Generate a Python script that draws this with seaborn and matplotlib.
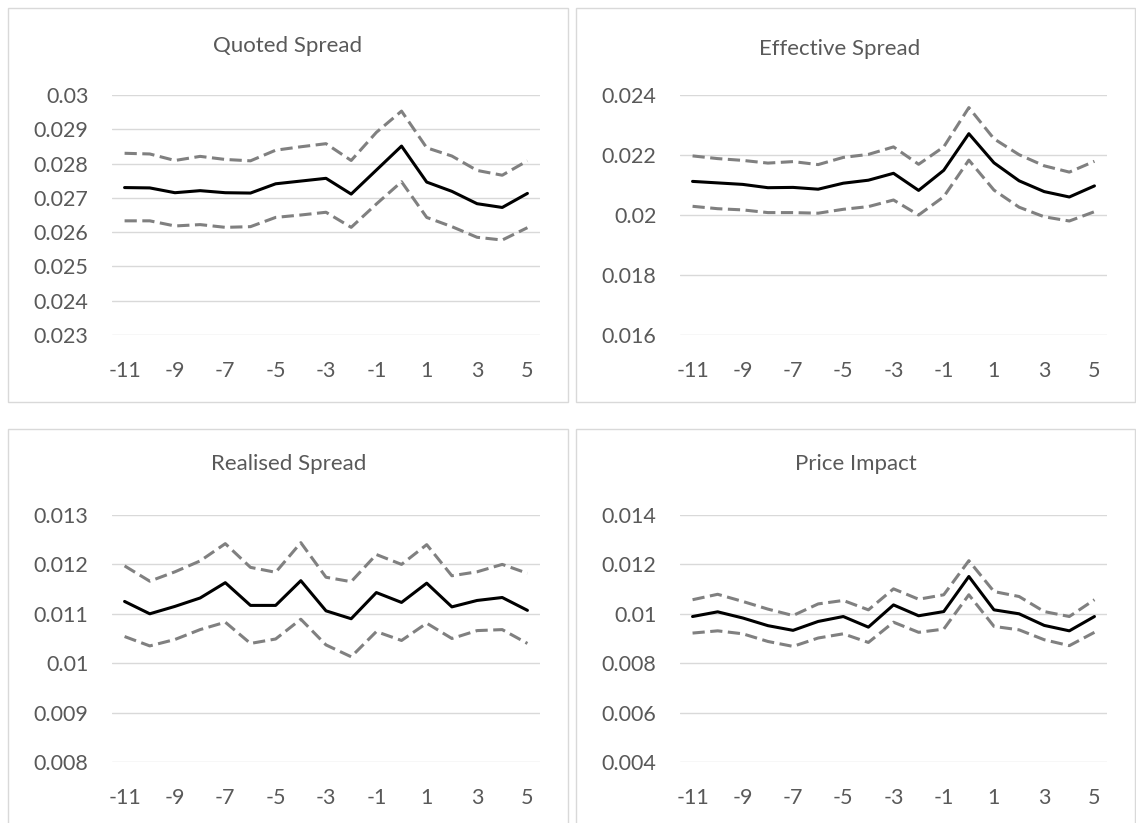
import matplotlib
matplotlib.use("Agg")
import matplotlib.pyplot as plt
import seaborn as sns
import pandas as pd
from matplotlib.patches import Rectangle
from matplotlib.ticker import FuncFormatter, FixedLocator

sns.set_theme(style="white")
plt.rcParams['font.family'] = ['Lato', 'DejaVu Sans']

event_days = list(range(-11, 6))
x_tick_labels = [-11, -9, -7, -5, -3, -1, 1, 3, 5]

quoted_mean = [0.02730, 0.02729, 0.02715, 0.02721, 0.02715, 0.02714, 0.02741, 0.02749, 0.02757,
               0.02711, 0.02781, 0.02851, 0.02746, 0.02719, 0.02683, 0.02672, 0.02713]
quoted_upper = [0.02830, 0.02828, 0.02809, 0.02821, 0.02812, 0.02808, 0.02839, 0.02849, 0.02858,
                0.02809, 0.02891, 0.02953, 0.02846, 0.02822, 0.02780, 0.02766, 0.02808]
quoted_lower = [0.02633, 0.02633, 0.02618, 0.02622, 0.02614, 0.02616, 0.02643, 0.02650, 0.02658,
                0.02614, 0.02682, 0.02747, 0.02643, 0.02616, 0.02585, 0.02577, 0.02613]

effective_mean = [0.02112, 0.02107, 0.02102, 0.02091, 0.02092, 0.02086, 0.02106, 0.02116, 0.02139,
                  0.02082, 0.02149, 0.02271, 0.02174, 0.02114, 0.02078, 0.02060, 0.02097]
effective_upper = [0.02197, 0.02188, 0.02182, 0.02173, 0.02178, 0.02168, 0.02192, 0.02202, 0.02227,
                   0.02169, 0.02227, 0.02358, 0.02254, 0.02201, 0.02164, 0.02143, 0.02179]
effective_lower = [0.02029, 0.02021, 0.02017, 0.02008, 0.02008, 0.02006, 0.02019, 0.02028, 0.02050,
                   0.02000, 0.02061, 0.02183, 0.02083, 0.02026, 0.01994, 0.01980, 0.02011]

realised_mean = [0.01125, 0.01100, 0.01115, 0.01132, 0.01163, 0.01117, 0.01117, 0.01167, 0.01106,
                 0.01090, 0.01143, 0.01123, 0.01162, 0.01114, 0.01127, 0.01133, 0.01107]
realised_upper = [0.01197, 0.01166, 0.01185, 0.01207, 0.01242, 0.01194, 0.01184, 0.01244, 0.01174,
                  0.01165, 0.01220, 0.01200, 0.01240, 0.01177, 0.01185, 0.01200, 0.01182]
realised_lower = [0.01054, 0.01035, 0.01048, 0.01068, 0.01083, 0.01040, 0.01049, 0.01089, 0.01037,
                  0.01013, 0.01064, 0.01046, 0.01081, 0.01050, 0.01066, 0.01068, 0.01040]

impact_mean = [0.00989, 0.01008, 0.00983, 0.00952, 0.00933, 0.00969, 0.00989, 0.00946, 0.01036,
               0.00992, 0.01009, 0.01151, 0.01016, 0.01000, 0.00953, 0.00931, 0.00989]
impact_upper = [0.01057, 0.01079, 0.01050, 0.01019, 0.00993, 0.01040, 0.01054, 0.01016, 0.01101,
                0.01059, 0.01077, 0.01215, 0.01090, 0.01070, 0.01009, 0.00989, 0.01057]
impact_lower = [0.00922, 0.00931, 0.00919, 0.00888, 0.00868, 0.00902, 0.00919, 0.00884, 0.00966,
                0.00925, 0.00938, 0.01077, 0.00949, 0.00935, 0.00895, 0.00871, 0.00925]

titles = ["Quoted Spread", "Effective Spread", "Realised Spread", "Price Impact"]
y_ticks = [
    [0.023, 0.024, 0.025, 0.026, 0.027, 0.028, 0.029, 0.030],
    [0.016, 0.018, 0.020, 0.022, 0.024],
    [0.008, 0.009, 0.010, 0.011, 0.012, 0.013],
    [0.004, 0.006, 0.008, 0.010, 0.012, 0.014],
]
series = [
    (quoted_mean, quoted_upper, quoted_lower),
    (effective_mean, effective_upper, effective_lower),
    (realised_mean, realised_upper, realised_lower),
    (impact_mean, impact_upper, impact_lower),
]

W, H = 1136, 823
fig = plt.figure(figsize=(W / 100, H / 100), dpi=100)
fig.patch.set_facecolor("white")

text_color = "#595959"
grid_color = "#d9d9d9"

boxes = [(8, 8, 568, 402), (576, 8, 1135, 402), (8, 429, 568, 830), (576, 429, 1135, 830)]
axes_px = [(112, 95, 540, 335), (680, 95, 1107, 335), (112, 515, 540, 762), (680, 515, 1107, 762)]
title_pos = [(288, 46), (840, 49), (289, 464), (856, 464)]

for (x0, y0, x1, y1) in boxes:
    fig.patches.append(Rectangle((x0 / W, 1 - y1 / H), (x1 - x0) / W, (y1 - y0) / H,
                                 transform=fig.transFigure, fill=False,
                                 edgecolor=grid_color, linewidth=1.0, zorder=0))

for i in range(4):
    x0, y0, x1, y1 = axes_px[i]
    ax = fig.add_axes([x0 / W, 1 - y1 / H, (x1 - x0) / W, (y1 - y0) / H])
    ax.set_facecolor("none")
    m, u, l = series[i]
    df = pd.DataFrame({
        "day": event_days * 3,
        "value": list(m) + list(u) + list(l),
        "series": ["mean"] * 17 + ["upper"] * 17 + ["lower"] * 17,
    })
    sns.lineplot(data=df[df.series == "upper"], x="day", y="value", ax=ax,
                 color="#808080", linewidth=2.2, zorder=3)
    sns.lineplot(data=df[df.series == "lower"], x="day", y="value", ax=ax,
                 color="#808080", linewidth=2.2, zorder=3)
    for ln in ax.lines:
        ln.set_linestyle((0, (4.0, 1.8)))
    sns.lineplot(data=df[df.series == "mean"], x="day", y="value", ax=ax,
                 color="black", linewidth=2.2, zorder=4)

    yt = y_ticks[i]
    ax.set_ylim(yt[0], yt[-1])
    ax.set_xlim(-11.5, 5.5)
    ax.yaxis.set_major_locator(FixedLocator(yt))
    ax.yaxis.set_major_formatter(FuncFormatter(lambda v, p: f"{round(v, 6):g}"))
    ax.xaxis.set_major_locator(FixedLocator(x_tick_labels))
    ax.xaxis.set_major_formatter(FuncFormatter(lambda v, p: f"{int(round(v))}"))
    ax.grid(axis="y", color=grid_color, linewidth=1.0, zorder=0)
    ax.grid(axis="x", visible=False)
    for s in ax.spines.values():
        s.set_visible(False)
    ax.tick_params(axis="both", length=0, labelsize=15.5, colors=text_color)
    ax.tick_params(axis="y", pad=17)
    ax.tick_params(axis="x", pad=19)
    ax.set_xlabel("")
    ax.set_ylabel("")
    if ax.get_legend() is not None:
        ax.get_legend().remove()

    tx, ty = title_pos[i]
    fig.text(tx / W, 1 - ty / H, titles[i], ha="center", va="center",
             fontsize=16, color=text_color)

fig.savefig("out.png", dpi=100, facecolor="white")
